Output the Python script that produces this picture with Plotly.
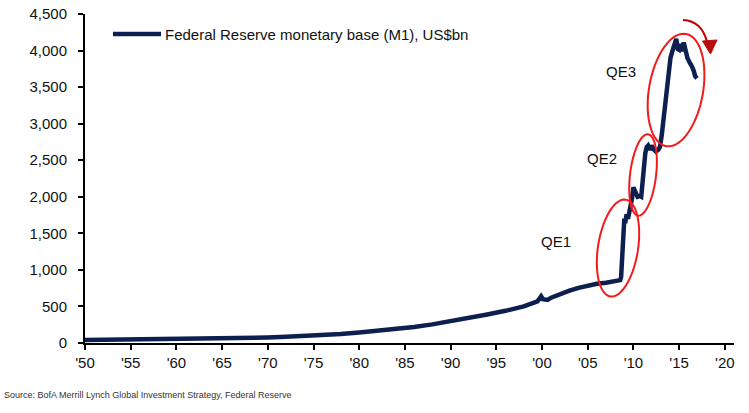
import math
import plotly.graph_objects as go

# ---------------- data ----------------
years = [1950.0, 1952, 1954, 1956, 1958, 1960, 1962, 1964, 1966, 1968, 1970, 1972, 1974,
         1976, 1978, 1980, 1982, 1984, 1986, 1988, 1990, 1992, 1994, 1996, 1998, 1999.5,
         1999.9, 2000.1, 2000.6, 2001, 2002, 2003, 2004, 2005, 2006, 2007, 2008.0, 2008.55,
         2008.65, 2008.75, 2008.85, 2009.0, 2009.1, 2009.25, 2009.4, 2009.55, 2009.7, 2009.85,
         2010.0, 2010.1, 2010.25, 2010.45, 2010.7, 2010.85, 2011.0, 2011.15, 2011.3, 2011.45,
         2011.6, 2011.8, 2012.0, 2012.2, 2012.45, 2012.7, 2012.9, 2013.1, 2013.3, 2013.55,
         2013.8, 2014.05, 2014.3, 2014.5, 2014.68, 2014.85, 2015.0, 2015.15, 2015.3, 2015.5,
         2015.7, 2015.9, 2016.05, 2016.25, 2016.45, 2016.6, 2016.75, 2016.95]
monetary_base = [40, 42, 44, 46, 48, 50, 53, 57, 62, 68, 75, 84, 95,
                 108, 124, 145, 168, 192, 220, 255, 295, 335, 390, 440, 500, 570,
                 640, 600, 590, 620, 675, 715, 755, 785, 810, 825, 840, 860,
                 905, 1250, 1550, 1700, 1640, 1760, 1700, 1800, 1830, 1980,
                 2130, 2090, 2040, 2000, 2010, 2000, 2200, 2450, 2600, 2680,
                 2700, 2640, 2700, 2650, 2620, 2640, 2680, 2850, 3050, 3350,
                 3650, 3900, 4010, 4080, 4160, 4020, 4010, 4090, 3990, 4110,
                 3960, 3900, 3860, 3820, 3770, 3720, 3650, 3620]

tick_years = list(range(1950, 2021, 5))
tick_labels = ["'" + str(y)[2:] for y in tick_years]

series_name = "Federal Reserve monetary base (M1), US$bn"
source_text = "Source: BofA Merrill Lynch Global Investment Strategy, Federal Reserve"

qe_labels = ["QE1", "QE2", "QE3"]
qe_label_year = [2001.5, 2006.55, 2008.65]
qe_label_value = [1395, 2530, 3707]

# ellipse centres (data)
qe_center_year = [2008.31, 2011.05, 2014.66]
qe_center_value = [1299, 2298, 3460]

# ---------------- layout geometry ----------------
W, H = 749, 413
ML, MR, MT, MB = 85, 15, 14, 70
X0, X1 = 1950, 2021
Y0, Y1 = 0, 4500
pw, ph = W - ML - MR, H - MT - MB
px_per_year = pw / (X1 - X0)
px_per_val = ph / (Y1 - Y0)

NAVY = "#0d1f4f"
RED = "#f21b1b"
DARKRED = "#c00000"
FONT = "Liberation Sans, Arial"

fig = go.Figure()
fig.add_trace(go.Scatter(x=years, y=monetary_base, mode="lines",
                         line=dict(color=NAVY, width=4.5), showlegend=False,
                         cliponaxis=False))

shapes = []

def ellipse_path(cy_year, cv, a, b, rot_deg, n=72):
    th = math.radians(rot_deg)
    pts = []
    for i in range(n + 1):
        t = 2 * math.pi * i / n
        ex, ey = a * math.cos(t), b * math.sin(t)
        X = ex * math.cos(th) - ey * math.sin(th)
        Y = ex * math.sin(th) + ey * math.cos(th)
        pts.append((cy_year + X / px_per_year, cv - Y / px_per_val))
    return "M " + " L ".join(f"{x:.4f},{y:.2f}" for x, y in pts) + " Z"

ell_sizes = [(20, 49, 9), (13, 41, 7), (27, 57, 10)]
for cy, cv, (a, b, r) in zip(qe_center_year, qe_center_value, ell_sizes):
    shapes.append(dict(type="path", xref="x", yref="y", path=ellipse_path(cy, cv, a, b, r),
                       line=dict(color=RED, width=2)))

def to_data(px, py):
    return (X0 + (px - ML) / px_per_year, Y1 - (py - MT) / px_per_val)

# curved arrow
p0 = to_data(683, 20); pc = to_data(702, 21); p1 = to_data(707, 42)
shapes.append(dict(type="path", xref="x", yref="y",
                   path=f"M {p0[0]:.4f},{p0[1]:.1f} Q {pc[0]:.4f},{pc[1]:.1f} {p1[0]:.4f},{p1[1]:.1f}",
                   line=dict(color=DARKRED, width=2)))
h1 = to_data(702.5, 41); h2 = to_data(717, 40); h3 = to_data(710.5, 54)
shapes.append(dict(type="path", xref="x", yref="y",
                   path=f"M {h1[0]:.4f},{h1[1]:.1f} L {h2[0]:.4f},{h2[1]:.1f} L {h3[0]:.4f},{h3[1]:.1f} Z",
                   fillcolor="#b80d0d", line=dict(color="#b80d0d", width=1)))

# legend line sample
shapes.append(dict(type="line", xref="paper", yref="paper",
                   x0=(113 - ML) / pw, x1=(161 - ML) / pw,
                   y0=(H - MB - 34) / ph, y1=(H - MB - 34) / ph,
                   line=dict(color=NAVY, width=4.5)))

annotations = []
annotations.append(dict(xref="paper", yref="paper", x=(163 - ML) / pw, y=(H - MB - 34) / ph,
                        text=series_name, showarrow=False, xanchor="left", yanchor="middle",
                        font=dict(family=FONT, size=15, color="#111111")))
for lab, yx, yv in zip(qe_labels, qe_label_year, qe_label_value):
    annotations.append(dict(x=yx, y=yv, text=lab, showarrow=False, xanchor="center",
                            yanchor="middle",
                            font=dict(family=FONT, size=15, color="#111111")))
annotations.append(dict(xref="paper", yref="paper", x=(2 - ML) / pw, y=-(395 - (H - MB)) / ph,
                        text=source_text, showarrow=False, xanchor="left", yanchor="middle",
                        font=dict(family=FONT, size=9, color="#333333")))

fig.update_layout(
    width=W, height=H, margin=dict(l=ML, r=MR, t=MT, b=MB, autoexpand=False),
    paper_bgcolor="white", plot_bgcolor="white",
    shapes=shapes, annotations=annotations,
    xaxis=dict(range=[X0, X1], tickvals=tick_years, ticktext=tick_labels, automargin=False,
               showgrid=False, zeroline=False, showline=True, linecolor="black", linewidth=2,
               ticks="outside", ticklen=5, tickwidth=1.5, tickcolor="black",
               tickfont=dict(family=FONT, size=15, color="#111111")),
    yaxis=dict(range=[Y0, Y1], dtick=500, tickformat=",", showgrid=False, zeroline=False,
               automargin=False,
               showline=True, linecolor="black", linewidth=2,
               ticks="outside", ticklen=5, tickwidth=1.5, tickcolor="black",
               ticklabelstandoff=8,
               tickfont=dict(family=FONT, size=15, color="#111111")),
)

fig.write_html("out.html", config={"displayModeBar": False},
               post_script="document.body.style.margin='0px';")
